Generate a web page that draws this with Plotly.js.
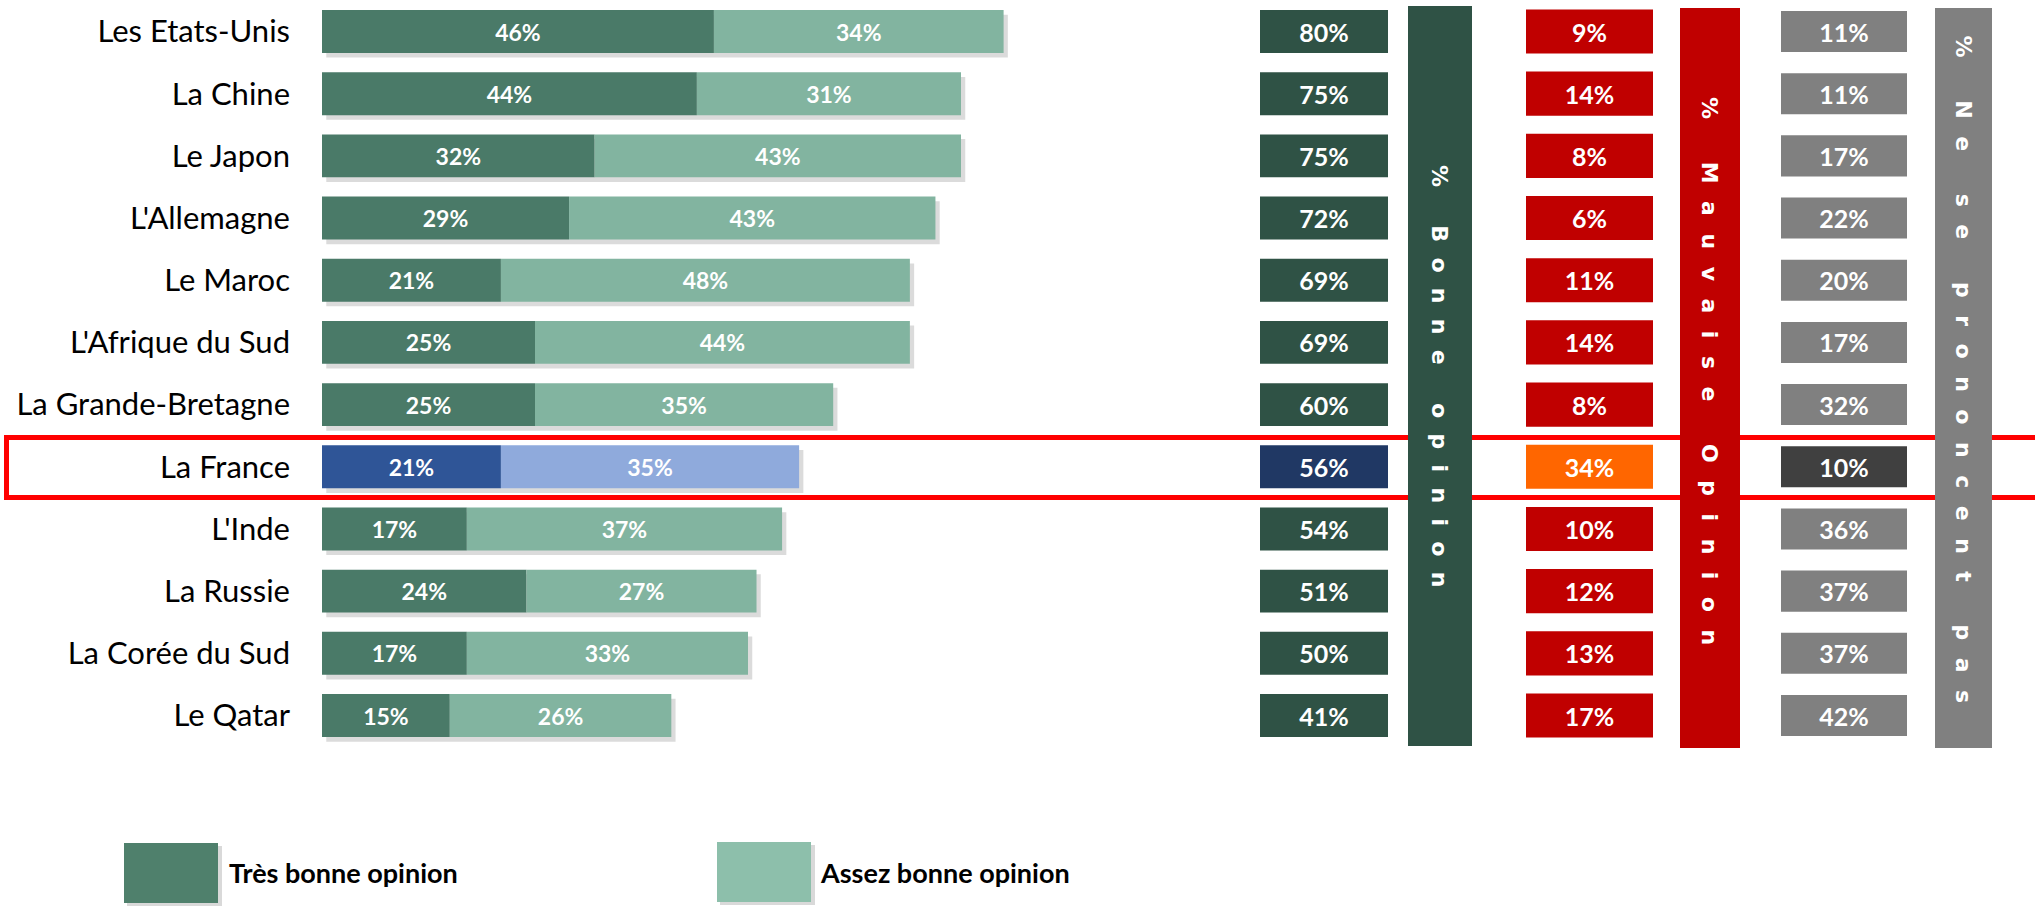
<!DOCTYPE html>
<html>
<head>
<meta charset="utf-8">
<script src="https://cdn.plot.ly/plotly-3.0.1.min.js"></script>
<style>
html,body{margin:0;padding:0;background:#fff;}
#chart{width:2035px;height:908px;}
</style>
</head>
<body>
<div id="chart"></div>
<script>
// ---- data ----
const categories = ["Les Etats-Unis","La Chine","Le Japon","L'Allemagne","Le Maroc","L'Afrique du Sud","La Grande-Bretagne","La France","L'Inde","La Russie","La Corée du Sud","Le Qatar"];
const tresBonne = [46,44,32,29,21,25,25,21,17,24,17,15];
const assezBonne = [34,31,43,43,48,44,35,35,37,27,33,26];
const bonneTotal = [80,75,75,72,69,69,60,56,54,51,50,41];
const mauvaise = [9,14,8,6,11,14,8,34,10,12,13,17];
const nePrononcentPas = [11,11,17,22,20,17,32,10,36,37,37,42];
const highlight = "La France";
const seriesNames = ["Très bonne opinion","Assez bonne opinion"];
const columnTitles = ["% Bonne opinion","% Mauvaise Opinion","% Ne se prononcent pas"];

// ---- styling ----
const W = 2035, H = 908;
const pxX = v => v / W;
const pxY = v => 1 - v / H;
const isHi = c => c === highlight;
const pick = (a, b) => categories.map(c => isHi(c) ? b : a);
const pct = arr => arr.map(v => v + '%');
const ones = categories.map(() => 1);
const BW = 0.69;

const labelFont = {family: 'Lato, "Open Sans", sans-serif', size: 23, color: '#ffffff', weight: 700};
const boxFont = {family: 'Lato, "Open Sans", sans-serif', size: 25, color: '#ffffff', weight: 700};

const totals = categories.map((c, i) => tresBonne[i] + assezBonne[i]);

const traces = [
  { // soft shadow
    type: 'bar', orientation: 'h', y: categories, x: totals, base: 0.5,
    width: BW, offset: -BW/2 + 0.075,
    marker: {color: 'rgba(0,0,0,0.14)'}, hoverinfo: 'skip', xaxis: 'x', yaxis: 'y'
  },
  {
    type: 'bar', orientation: 'h', name: seriesNames[0], y: categories, x: tresBonne, base: 0,
    width: BW, marker: {color: pick('#4A7A68', '#2F5597')},
    text: pct(tresBonne), textposition: 'inside', insidetextanchor: 'middle', textangle: 0,
    constraintext: 'none', textfont: labelFont, hoverinfo: 'skip', xaxis: 'x', yaxis: 'y'
  },
  {
    type: 'bar', orientation: 'h', name: seriesNames[1], y: categories, x: assezBonne, base: tresBonne,
    width: BW, marker: {color: pick('#82B4A0', '#8FAADC')},
    text: pct(assezBonne), textposition: 'inside', insidetextanchor: 'middle', textangle: 0,
    constraintext: 'none', textfont: labelFont, hoverinfo: 'skip', xaxis: 'x', yaxis: 'y'
  },
  {
    type: 'bar', orientation: 'h', y: categories, x: ones, width: BW,
    marker: {color: pick('#2F5245', '#203864')},
    text: pct(bonneTotal), textposition: 'inside', insidetextanchor: 'middle', textangle: 0,
    constraintext: 'none', textfont: boxFont, hoverinfo: 'skip', xaxis: 'x2', yaxis: 'y'
  },
  {
    type: 'bar', orientation: 'h', y: categories, x: ones, width: 0.71,
    marker: {color: pick('#C00000', '#FF6600')},
    text: pct(mauvaise), textposition: 'inside', insidetextanchor: 'middle', textangle: 0,
    constraintext: 'none', textfont: boxFont, hoverinfo: 'skip', xaxis: 'x3', yaxis: 'y'
  },
  {
    type: 'bar', orientation: 'h', y: categories, x: ones, width: 0.66,
    marker: {color: pick('#808080', '#404040')},
    text: pct(nePrononcentPas), textposition: 'inside', insidetextanchor: 'middle', textangle: 0,
    constraintext: 'none', textfont: boxFont, hoverinfo: 'skip', xaxis: 'x4', yaxis: 'y'
  }
];

const hiddenX = (d, r) => ({domain: d, range: r, visible: false, showgrid: false, zeroline: false, fixedrange: true});

const spaced = (s, sep) => s.split('').map(ch => ch === ' ' ? '\u00A0' : ch).join(sep);

const columnBars = [
  {x0: 1408, x1: 1472, y0: 6, y1: 746, color: '#2F5245', ty: 376, sep: '\u00A0\u00A0'},
  {x0: 1680, x1: 1740, y0: 8, y1: 748, color: '#C00000', ty: 371, sep: '\u00A0\u00A0\u200A'},
  {x0: 1935, x1: 1992, y0: 8, y1: 748, color: '#808080', ty: 369, sep: '\u00A0\u00A0\u200A'}
];

const shapes = [
  {type: 'rect', xref: 'paper', yref: 'paper', x0: pxX(6.5), x1: pxX(2045), y0: pxY(437.5), y1: pxY(497.5),
   line: {color: '#FF0000', width: 5}, fillcolor: 'rgba(0,0,0,0)', layer: 'below'}
];
columnBars.forEach(b => shapes.push({type: 'rect', xref: 'paper', yref: 'paper',
  x0: pxX(b.x0), x1: pxX(b.x1), y0: pxY(b.y1), y1: pxY(b.y0), line: {width: 0}, fillcolor: b.color, layer: 'below'}));
// legend swatches
shapes.push({type: 'rect', xref: 'paper', yref: 'paper', x0: pxX(127), x1: pxX(222), y0: pxY(906), y1: pxY(846), line: {width: 0}, fillcolor: 'rgba(0,0,0,0.15)', layer: 'below'});
shapes.push({type: 'rect', xref: 'paper', yref: 'paper', x0: pxX(124), x1: pxX(218), y0: pxY(903), y1: pxY(843), line: {width: 0}, fillcolor: '#4F806C', layer: 'below'});
shapes.push({type: 'rect', xref: 'paper', yref: 'paper', x0: pxX(720), x1: pxX(815), y0: pxY(905), y1: pxY(845), line: {width: 0}, fillcolor: 'rgba(0,0,0,0.15)', layer: 'below'});
shapes.push({type: 'rect', xref: 'paper', yref: 'paper', x0: pxX(717), x1: pxX(811), y0: pxY(902), y1: pxY(842), line: {width: 0}, fillcolor: '#8DBFAB', layer: 'below'});

const annotations = columnTitles.map((t, i) => ({
  xref: 'paper', yref: 'paper', x: pxX((columnBars[i].x0 + columnBars[i].x1) / 2), y: pxY(columnBars[i].ty),
  xanchor: 'center', yanchor: 'middle', showarrow: false, textangle: 90,
  text: '<b>' + spaced(t, columnBars[i].sep) + '</b>',
  font: {family: '"DejaVu Sans", Verdana, sans-serif', size: 22, color: '#ffffff'}
}));
annotations.push({xref: 'paper', yref: 'paper', x: pxX(227), y: pxY(872), xanchor: 'left', yanchor: 'middle', showarrow: false,
  text: '<b>' + seriesNames[0] + '</b>', font: {family: 'Lato, sans-serif', size: 27, color: '#000'}});
annotations.push({xref: 'paper', yref: 'paper', x: pxX(818), y: pxY(872), xanchor: 'left', yanchor: 'middle', showarrow: false,
  text: '<b>' + seriesNames[1] + '</b>', font: {family: 'Lato, sans-serif', size: 27, color: '#000'}});

const plotTop = 0.41, plotBottom = 746.6;
const layout = {
  width: W, height: H,
  margin: {l: 0, r: 0, t: 0, b: 0, pad: 0},
  paper_bgcolor: '#ffffff', plot_bgcolor: 'rgba(0,0,0,0)',
  barmode: 'overlay', showlegend: false,
  font: {family: 'Lato, sans-serif'},
  xaxis: hiddenX([pxX(322), pxX(322 + 90 * 8.52)], [0, 90]),
  xaxis2: Object.assign(hiddenX([pxX(1260), pxX(1388)], [0, 1]), {anchor: 'y'}),
  xaxis3: Object.assign(hiddenX([pxX(1526), pxX(1653)], [0, 1]), {anchor: 'y'}),
  xaxis4: Object.assign(hiddenX([pxX(1781), pxX(1907)], [0, 1]), {anchor: 'y'}),
  yaxis: {
    type: 'category', domain: [pxY(plotBottom), pxY(plotTop)], range: [11.5, -0.5],
    showgrid: false, zeroline: false, showline: false, ticks: '', ticklabelstandoff: 31,
    tickfont: {family: 'Lato, sans-serif', size: 31, color: '#000000'}, fixedrange: true
  },
  shapes: shapes,
  annotations: annotations
};

Plotly.newPlot('chart', traces, layout, {displayModeBar: false, staticPlot: true});
</script>
</body>
</html>
